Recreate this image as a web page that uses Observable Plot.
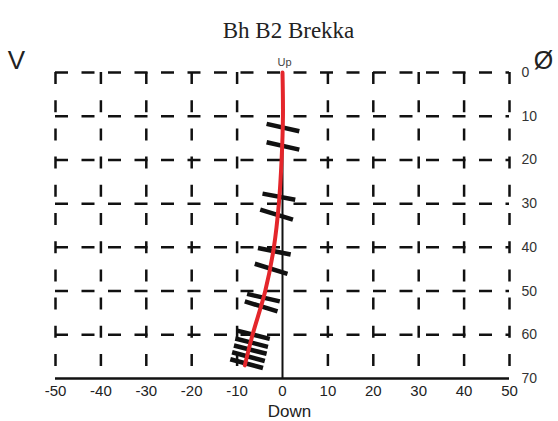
<!DOCTYPE html>
<html>
<head>
<meta charset="utf-8">
<script src="https://cdn.jsdelivr.net/npm/d3@7"></script>
<script src="https://cdn.jsdelivr.net/npm/@observablehq/plot@0.6"></script>
<style>
  body { margin: 0; background: #fff; }
</style>
</head>
<body>
<div id="chart"></div>
<script>
// ---- data ----
const titleText = "Bh B2 Brekka";
const xTicks = [-50, -40, -30, -20, -10, 0, 10, 20, 30, 40, 50];
const yTicks = [0, 10, 20, 30, 40, 50, 60, 70];

// borehole trace (horizontal offset vs depth)
const traceDepth = [0, 10, 20, 30, 40, 50, 60, 67];
const traceX     = [0, 0.1, -0.2, -0.8, -1.9, -3.8, -6.6, -8.3];

// structure marks crossing the trace
const barDepth = [12.6, 16.8, 28.4, 32.5, 40.9, 44.9, 51.5, 53.5, 60.0, 61.8, 63.4, 65.0, 66.6];
const barX     = [0.1, 0.1, -0.8, -1.3, -1.8, -2.5, -4.2, -4.7, -6.4, -6.8, -7.1, -7.5, -7.9];
const barTilt  = [1.7, 1.7, 1.4, 2.3, 1.5, 2.3, 1.7, 2.3, 1.9, 1.9, 1.9, 2.0, 2.0];

// ---- build tables ----
const trace = traceDepth.map((d, i) => ({depth: d, x: traceX[i]}));
const bars = barDepth.map((d, i) => ({depth: d, x: barX[i], tilt: barTilt[i]}));
const yGrid = yTicks.filter(d => d < 70);
const xGrid = xTicks.filter(d => d !== 0);
const HALF = 3.6;

const sans = "'Liberation Sans', Arial, sans-serif";

const chart = Plot.plot({
  width: 558,
  height: 421,
  marginTop: 72,
  marginBottom: 43,
  marginLeft: 55,
  marginRight: 49,
  x: {domain: [-50, 50], axis: null},
  y: {domain: [0, 70], reverse: true, axis: null},
  style: {fontFamily: sans, background: "#fff", overflow: "visible"},
  marks: [
    Plot.ruleY(yGrid, {y: d => d, stroke: "#111", strokeWidth: 2.5, strokeDasharray: "13,13.5"}),
    Plot.ruleX(xGrid, {x: d => d, stroke: "#111", strokeWidth: 2.5, strokeDasharray: "12,16.2"}),
    Plot.ruleX([0], {x: d => d, stroke: "#111", strokeWidth: 2}),
    Plot.ruleY([70], {y: d => d, stroke: "#111", strokeWidth: 2.5}),
    Plot.link(bars, {
      x1: d => d.x - HALF, y1: d => d.depth - d.tilt / 2,
      x2: d => d.x + HALF, y2: d => d.depth + d.tilt / 2,
      stroke: "#111", strokeWidth: 4.5
    }),
    Plot.line(trace, {x: "x", y: "depth", stroke: "#e4262b", strokeWidth: 4, curve: "catmull-rom"}),
    // tick labels
    Plot.text(xTicks, {x: d => d, frameAnchor: "bottom", dy: 13, textAnchor: "middle", lineAnchor: "middle", fontSize: 15, fill: "#222"}),
    Plot.text(yTicks, {y: d => d, frameAnchor: "right", dx: 12, textAnchor: "start", lineAnchor: "middle", fontSize: 14, fill: "#333"}),
    // labels
    Plot.text([trace[0]], {x: "x", y: "depth", text: () => "Up", dx: 2, dy: -10, textAnchor: "middle", lineAnchor: "middle", fontSize: 11, fill: "#444"}),
    Plot.text(["Down"], {frameAnchor: "bottom", dx: 7, dy: 33, textAnchor: "middle", lineAnchor: "middle", fontSize: 17, fill: "#222"}),
    Plot.text(["V"], {frameAnchor: "top-left", dx: -39, dy: -12, textAnchor: "middle", lineAnchor: "middle", fontSize: 26, fill: "#222"}),
    Plot.text(["Ø"], {frameAnchor: "top-right", dx: 34, dy: -12, textAnchor: "middle", lineAnchor: "middle", fontSize: 25, fill: "#222"}),
    Plot.text([titleText], {frameAnchor: "top", dx: 6, dy: -35, textAnchor: "middle", lineAnchor: "bottom", fontSize: 23, fontFamily: "'Liberation Serif', 'Times New Roman', serif", fill: "#222"})
  ]
});
document.getElementById("chart").appendChild(chart);
</script>
</body>
</html>
